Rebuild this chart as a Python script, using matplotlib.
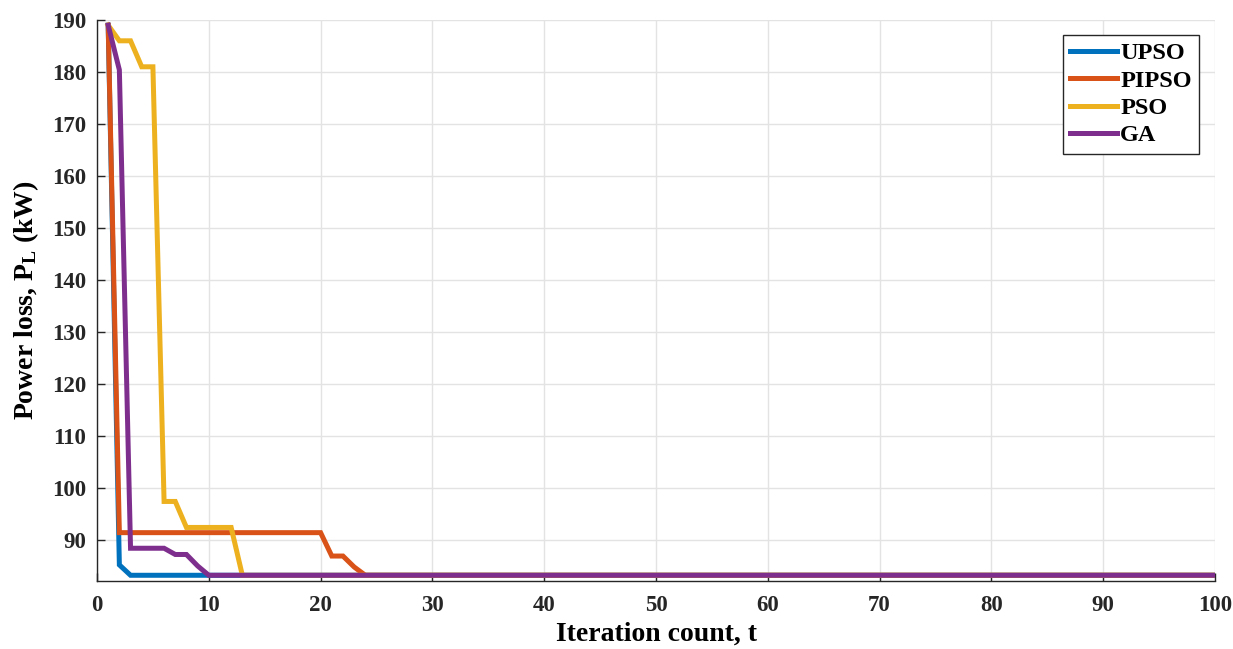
import matplotlib
matplotlib.use("Agg")
import matplotlib.pyplot as plt

# Data (iteration, power loss in kW) at points where the curves change
upso_t = [1, 2, 3, 100]
upso_v = [189.0, 85.2, 83.2, 83.2]

pipso_t = [1, 2, 20, 21, 22, 23, 24, 100]
pipso_v = [189.0, 91.4, 91.4, 86.9, 86.9, 84.8, 83.2, 83.2]

pso_t = [1, 2, 3, 4, 5, 6, 7, 8, 12, 13, 100]
pso_v = [189.0, 186.0, 186.0, 181.0, 181.0, 97.4, 97.4, 92.4, 92.4, 83.2, 83.2]

ga_t = [1, 2, 3, 6, 7, 8, 9, 10, 100]
ga_v = [189.0, 180.4, 88.4, 88.4, 87.2, 87.2, 85.0, 83.2, 83.2]

series_names = ["UPSO", "PIPSO", "PSO", "GA"]
colors = ["#0072BD", "#D95319", "#EDB120", "#7E2F8E"]

xticks = list(range(0, 101, 10))
yticks = list(range(90, 191, 10))

plt.rcParams["font.family"] = ["Liberation Serif", "DejaVu Serif"]
plt.rcParams["font.weight"] = "bold"
plt.rcParams["mathtext.fontset"] = "custom"
plt.rcParams["mathtext.rm"] = "Liberation Serif:bold"
plt.rcParams["mathtext.bf"] = "Liberation Serif:bold"
plt.rcParams["mathtext.it"] = "Liberation Serif:bold"

fig = plt.figure(figsize=(12.33, 6.49), dpi=100)
ax = fig.add_axes([97/1233, 1-581/649, (1215-97)/1233, (581-20)/649])

data = [(upso_t, upso_v), (pipso_t, pipso_v), (pso_t, pso_v), (ga_t, ga_v)]
for (t, v), name, c in zip(data, series_names, colors):
    ax.plot(t, v, color=c, lw=3.6, label=name, solid_joinstyle="miter")

ax.set_xlim(0, 100)
ax.set_ylim(82.1, 190)
ax.set_xticks(xticks)
ax.set_yticks(yticks)
ax.grid(True, color="#e3e3e3", lw=1)
ax.set_axisbelow(True)
for s in ["top", "right"]:
    ax.spines[s].set_visible(False)
for s in ["left", "bottom"]:
    ax.spines[s].set_color("#262626")
    ax.spines[s].set_linewidth(1.0)
ax.tick_params(direction="in", length=6, width=1, colors="#262626",
               labelsize=16.5, labelcolor="#262626")
ax.tick_params(axis="x", pad=10)
ax.tick_params(axis="y", pad=8)
for lab in ax.get_xticklabels() + ax.get_yticklabels():
    lab.set_fontweight("bold")

ax.set_xlabel("Iteration count, t", fontsize=20, fontweight="bold", labelpad=4)
ax.set_ylabel(r"Power loss, P$_{\mathrm{L}}$ (kW)", fontsize=20, fontweight="bold", labelpad=8)

leg = ax.legend(loc="upper right", bbox_to_anchor=(1199/1233, 1-35/649),
                bbox_transform=fig.transFigure, fancybox=False, framealpha=1,
                edgecolor="#262626", prop={"family": "Liberation Serif", "weight": "bold", "size": 17.5},
                handlelength=1.9, handletextpad=0.15, borderpad=0.3, labelspacing=0.22,
                borderaxespad=0)
leg.get_frame().set_linewidth(1.0)

fig.savefig("out.png", dpi=100)
